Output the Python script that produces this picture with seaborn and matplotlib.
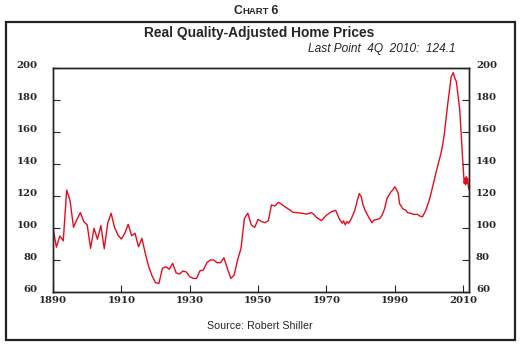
import matplotlib
matplotlib.use("Agg")
import matplotlib.pyplot as plt
import matplotlib.transforms as mtransforms
from matplotlib.patches import Rectangle
import seaborn as sns
import pandas as pd

# ---- data (visual positions) ----
years_prewar = list(range(1890, 1953))
values_prewar = [100, 88, 95, 92, 123.7, 117, 100.4, 105.4, 109.6, 104,
                 101.9, 87.3, 99.8, 93, 101.5, 87, 102.9, 109.2, 100.4, 95.6,
                 93.1, 96.7, 102.3, 95.2, 96.7, 88.3, 93.5, 84.2, 75.8, 70,
                 65.8, 65.4, 74.8, 75.8, 74.2, 77.9, 72, 71.2, 73.1, 72.5,
                 69.6, 68.5, 68.5, 73.3, 73.7, 78.3, 80, 80, 78.3, 78.3,
                 81.4, 74.8, 68.5, 70.6, 80, 87.3, 106, 109.2, 101.9, 100.4,
                 105.4, 104, 103.3]
years_postwar = [1953.0, 1953.5, 1953.9, 1954.9, 1955.9, 1956.8, 1957.8, 1959.3,
                 1960.2, 1962.2, 1964.2, 1965.6, 1966.3, 1967.1, 1968.5, 1970.0,
                 1971.5, 1972.7, 1973.7, 1974.6, 1975.0, 1975.5, 1976.0, 1976.5,
                 1977.3, 1978.3, 1979.0, 1979.6, 1980.2, 1980.7, 1981.3, 1982.3,
                 1983.3, 1984.0, 1984.8, 1985.6, 1986.3, 1987.0, 1987.7, 1988.9,
                 1989.5, 1990.0, 1990.5, 1991.0, 1991.4, 1991.7, 1992.3, 1993.1,
                 1993.8, 1994.6, 1995.5, 1996.6, 1997.3, 1998.1, 1999.1, 2000.0,
                 2000.6, 2002.0, 2003.5, 2004.0, 2004.5, 2005.5, 2006.5, 2007.1,
                 2007.5, 2008.0, 2009.0, 2009.8, 2010.3, 2010.5, 2010.7, 2010.9,
                 2011.1, 2011.3, 2011.5, 2011.7]
values_postwar = [104.6, 110, 114.4, 113.7, 116, 115, 113.3, 111.3,
                  109.8, 109.4, 108.7, 109.6, 108.5, 106.6, 104.6, 108,
                  110.2, 111, 106, 103, 104.5, 102, 104, 103,
                  106, 111, 117, 121.5, 119.5, 114.4, 111, 107,
                  103.3, 105, 105.4, 106, 108.1, 112, 118.5, 122.7,
                  124, 125.8, 124, 121.7, 115, 114.4, 112, 111.3,
                  109.5, 109.2, 108.5, 108.5, 107.5, 107, 111.3, 117,
                  121.7, 134.2, 146.7, 152, 159.2, 177.9, 194.6, 197.1,
                  194, 191.5, 173.7, 144.6, 128, 131, 127, 132,
                  128, 131, 126, 124.1]
y_ticks = [60, 80, 100, 120, 140, 160, 180, 200]
x_ticks = [1890, 1910, 1930, 1950, 1970, 1990, 2010]

df = pd.DataFrame({"year": years_prewar + years_postwar,
                   "value": values_prewar + values_postwar})

sns.set_style("ticks")
plt.rcParams["font.family"] = ["DejaVu Sans"]

fig = plt.figure(figsize=(5.28, 3.45), dpi=100)
W, H = 528, 345
ax = fig.add_axes([53 / W, 1 - 292 / H, 416 / W, 224 / H])

sns.lineplot(data=df, x="year", y="value", ax=ax, color="#e60c1e",
             linewidth=1.0, sort=False, estimator=None)

ax.set_xlim(1890, 2011.7)
ax.set_ylim(60, 200)
ax.set_xticks(x_ticks)
ax.set_yticks(y_ticks)
ax.set_xlabel("")
ax.set_ylabel("")

tick_font = dict(family="DejaVu Serif", size=7.3, weight="bold")
ax.set_xticklabels([str(t) for t in x_ticks], **tick_font)
ax.set_yticklabels([str(t) for t in y_ticks], **tick_font)
ax.tick_params(axis="x", direction="in", length=5, width=0.8, pad=3, top=False)
ax.tick_params(axis="y", direction="in", length=5, width=0.8, pad=11)
for s in ax.spines.values():
    s.set_visible(True)
    s.set_linewidth(1.0)
    s.set_color("black")

ax2 = ax.twinx()
ax2.set_ylim(60, 200)
ax2.set_yticks(y_ticks)
ax2.set_yticklabels([str(t) for t in y_ticks], **tick_font)
ax2.tick_params(axis="y", direction="in", length=5, width=0.8, pad=5)
for s in ax2.spines.values():
    s.set_linewidth(1.0)

# shift y tick labels upward slightly as in the reference
off = mtransforms.ScaledTranslation(0, 3.0 / 100, fig.dpi_scale_trans)
for lab in ax.get_yticklabels() + ax2.get_yticklabels():
    lab.set_transform(lab.get_transform() + off)

# outer frame
fig.patches.append(Rectangle((6 / W, 1 - 340 / H), 509 / W, 318 / H,
                             transform=fig.transFigure, fill=False,
                             edgecolor="#222222", linewidth=1.6))

# "CHART 6" in small caps
fig.canvas.draw()
r = fig.canvas.get_renderer()
parts = [("C", 8.8), ("HART", 6.8), (" 6", 8.8)]
texts = []
for s, fs in parts:
    t = fig.text(0, 0, s, fontsize=fs, fontweight="bold",
                 family="Liberation Sans", va="baseline", ha="left")
    texts.append(t)
fig.canvas.draw()
widths = [t.get_window_extent(r).width for t in texts]
total = sum(widths)
x0 = 256 - total / 2
for t, w in zip(texts, widths):
    t.set_position((x0 / W, 1 - 14 / H))
    x0 += w

fig.text(259 / W, 1 - 33 / H, "Real Quality-Adjusted Home Prices",
         ha="center", va="center", fontsize=9.9, fontweight="bold",
         family="Liberation Sans")
fig.text(456 / W, 1 - 49 / H, "Last Point  4Q  2010:  124.1",
         ha="right", va="center", fontsize=8.6, fontstyle="italic",
         family="Liberation Sans")
fig.text(259.5 / W, 1 - 326 / H, "Source: Robert Shiller",
         ha="center", va="center", fontsize=7.7, family="Liberation Sans")

fig.savefig("out.png", dpi=100, facecolor="white")
